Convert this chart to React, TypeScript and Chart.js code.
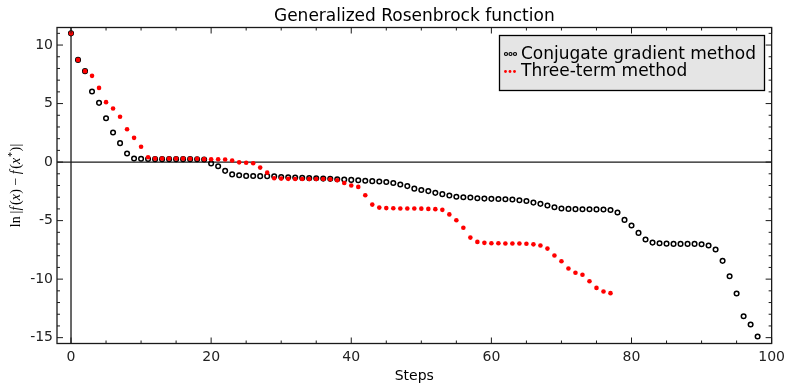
import { useEffect, useRef } from 'react';
import { Chart, registerables } from 'chart.js';

Chart.register(...registerables);

const conjugateGradient = [
  11.0, 8.73, 7.77, 6.03, 5.06, 3.75, 2.53, 1.62, 0.73, 0.31,
  0.28, 0.26, 0.25, 0.25, 0.25, 0.25, 0.25, 0.25, 0.24, 0.22,
  -0.11, -0.35, -0.75, -1.05, -1.13, -1.18, -1.19, -1.2, -1.2, -1.21,
  -1.28, -1.3, -1.32, -1.35, -1.37, -1.38, -1.41, -1.43, -1.47, -1.49,
  -1.52, -1.55, -1.6, -1.63, -1.66, -1.7, -1.78, -1.92, -2.05, -2.27,
  -2.38, -2.48, -2.63, -2.74, -2.86, -2.96, -3.0, -3.03, -3.09, -3.12,
  -3.14, -3.15, -3.17, -3.2, -3.26, -3.32, -3.46, -3.57, -3.71, -3.86,
  -3.97, -4.0, -4.02, -4.03, -4.03, -4.04, -4.05, -4.09, -4.31, -4.94,
  -5.42, -6.05, -6.62, -6.88, -6.94, -6.97, -6.99, -6.99, -6.99, -6.99,
  -7.02, -7.13, -7.47, -8.44, -9.75, -11.23, -13.17, -13.88, -14.9,
];

const threeTerm = [
  11.0, 8.73, 7.77, 7.37, 6.34, 5.12, 4.58, 3.87, 2.81, 2.07,
  1.31, 0.42, 0.3, 0.3, 0.3, 0.3, 0.3, 0.29, 0.28, 0.25,
  0.24, 0.24, 0.22, 0.13, -0.02, -0.05, -0.1, -0.47, -0.9, -1.38,
  -1.41, -1.43, -1.44, -1.44, -1.44, -1.44, -1.44, -1.47, -1.55, -1.78,
  -2.0, -2.12, -2.83, -3.63, -3.89, -3.93, -3.95, -3.97, -3.97, -3.97,
  -3.98, -4.0, -4.02, -4.08, -4.47, -4.97, -5.61, -6.45, -6.82, -6.9,
  -6.93, -6.93, -6.95, -6.96, -6.96, -6.98, -7.03, -7.13, -7.39, -7.98,
  -8.47, -9.09, -9.46, -9.62, -10.18, -10.75, -11.06, -11.2,
];

const xTicks = [0, 20, 40, 60, 80, 100];
const yTicks = [-15, -10, -5, 0, 5, 10];
const seriesLabels = ['Conjugate gradient method', 'Three-term method'];
const titleText = 'Generalized Rosenbrock function';
const xTitle = 'Steps';

const FRAME = '#1a1a1a';

const decorPlugin = {
  id: 'decor',
  beforeDatasetsDraw(chart: any) {
    const { ctx, chartArea: a, scales } = chart;
    const xs = scales.x;
    const ys = scales.y;
    ctx.save();
    ctx.strokeStyle = FRAME;
    ctx.lineWidth = 1.3;
    const y0 = ys.getPixelForValue(0);
    const x0 = xs.getPixelForValue(0);
    ctx.beginPath();
    ctx.moveTo(a.left, y0);
    ctx.lineTo(a.right, y0);
    ctx.moveTo(x0, a.top);
    ctx.lineTo(x0, a.bottom);
    ctx.stroke();
    ctx.restore();
  },
  afterDraw(chart: any) {
    const { ctx, chartArea: a, scales } = chart;
    const xs = scales.x;
    const ys = scales.y;
    ctx.save();
    // frame
    ctx.strokeStyle = FRAME;
    ctx.lineWidth = 1.3;
    ctx.strokeRect(a.left, a.top, a.right - a.left, a.bottom - a.top);
    // ticks
    ctx.lineWidth = 1;
    ctx.beginPath();
    for (let v = 0; v <= 100; v += 5) {
      const px = xs.getPixelForValue(v);
      const len = v % 20 === 0 ? 6 : 3;
      ctx.moveTo(px, a.bottom);
      ctx.lineTo(px, a.bottom - len);
      ctx.moveTo(px, a.top);
      ctx.lineTo(px, a.top + len);
    }
    for (let v = -15; v <= 11; v += 1) {
      const py = ys.getPixelForValue(v);
      const len = v % 5 === 0 ? 6 : 3;
      ctx.moveTo(a.left, py);
      ctx.lineTo(a.left + len, py);
      ctx.moveTo(a.right, py);
      ctx.lineTo(a.right - len, py);
    }
    ctx.stroke();

    // title
    ctx.fillStyle = '#000';
    ctx.textAlign = 'center';
    ctx.textBaseline = 'alphabetic';
    ctx.font = '17px "DejaVu Sans"';
    ctx.fillText(titleText, (a.left + a.right) / 2, 20.5);
    // x title
    ctx.font = '14px "DejaVu Sans"';
    ctx.fillText(xTitle, (a.left + a.right) / 2, 380);

    // y title (math style)
    ctx.save();
    ctx.translate(15, (a.top + a.bottom) / 2);
    ctx.rotate(-Math.PI / 2);
    const size = 14;
    const up = `${size}px "Liberation Serif"`;
    const it = `italic ${size}px "Liberation Serif"`;
    const sup = `${Math.round(size * 0.72)}px "Liberation Serif"`;
    const parts: [string, string, number, number][] = [
      ['ln', up, 0.2, 0],
      ['|', up, 0.02, 0],
      ['f', it, 0.1, 0],
      ['(', up, 0.02, 0],
      ['x', it, 0.02, 0],
      [')', up, 0.25, 0],
      ['\u2212', up, 0.25, 0],
      ['f', it, 0.1, 0],
      ['(', up, 0.02, 0],
      ['x', it, 0.04, 0],
      ['*', sup, 0.04, -5],
      [')', up, 0.02, 0],
      ['|', up, 0, 0],
    ];
    let total = 0;
    for (const [t, f, sp] of parts) {
      ctx.font = f;
      total += ctx.measureText(t).width + sp * size;
    }
    let cx = -total / 2;
    ctx.textAlign = 'left';
    ctx.fillStyle = '#000';
    for (const [t, f, sp, dy] of parts) {
      ctx.font = f;
      ctx.fillText(t, cx, 4.5 + dy);
      cx += ctx.measureText(t).width + sp * size;
    }
    ctx.restore();

    // legend
    const lx = 499.5, ly = 35.5, lw = 265, lh = 55;
    ctx.fillStyle = '#e5e5e5';
    ctx.fillRect(lx, ly, lw, lh);
    ctx.strokeStyle = '#000';
    ctx.lineWidth = 1.3;
    ctx.strokeRect(lx, ly, lw, lh);
    ctx.font = '17px "DejaVu Sans"';
    ctx.fillStyle = '#000';
    ctx.textAlign = 'left';
    ctx.fillText(seriesLabels[0], 521, 59);
    ctx.fillText(seriesLabels[1], 521, 75.5);
    ctx.lineWidth = 1.2;
    ctx.strokeStyle = '#000';
    for (const mx of [506, 510.5, 515]) {
      ctx.beginPath();
      ctx.arc(mx, 54, 1.5, 0, Math.PI * 2);
      ctx.stroke();
    }
    ctx.fillStyle = '#ff0000';
    for (const mx of [505.5, 510, 514.5]) {
      ctx.beginPath();
      ctx.arc(mx, 71.5, 1.4, 0, Math.PI * 2);
      ctx.fill();
    }
    ctx.restore();
  },
};

export default function App() {
  const ref = useRef<HTMLCanvasElement | null>(null);

  useEffect(() => {
    document.body.style.margin = '0';
    const canvas = ref.current;
    if (!canvas) return;
    const tickFont = { family: '"DejaVu Sans"', size: 14 };
    const chart = new Chart(canvas, {
      type: 'scatter',
      data: {
        datasets: [
          {
            label: seriesLabels[0],
            data: conjugateGradient.map((v, i) => ({ x: i, y: v })),
            pointStyle: 'circle',
            pointRadius: 2.3,
            pointBorderWidth: 1.5,
            pointBorderColor: '#000',
            pointBackgroundColor: 'rgba(255,255,255,0)',
            borderColor: '#000',
            backgroundColor: 'rgba(255,255,255,0)',
            showLine: false,
            order: 2,
          },
          {
            label: seriesLabels[1],
            data: threeTerm.map((v, i) => ({ x: i, y: v })),
            pointStyle: 'circle',
            pointRadius: 2.3,
            pointBorderWidth: 0,
            pointBackgroundColor: '#ff0000',
            pointBorderColor: '#ff0000',
            borderColor: '#ff0000',
            backgroundColor: '#ff0000',
            showLine: false,
            order: 1,
          },
        ],
      },
      options: {
        responsive: false,
        animation: false,
        devicePixelRatio: 1,
        layout: { padding: { top: 27.5, right: 17, left: 0, bottom: 0 } },
        plugins: {
          legend: { display: false },
          title: { display: false },
          tooltip: { enabled: false },
        },
        scales: {
          x: {
            type: 'linear',
            min: -2,
            max: 100,
            grid: { display: false, drawTicks: false },
            border: { display: false },
            ticks: {
              font: tickFont,
              color: '#222',
              padding: 5,
              maxRotation: 0,
              autoSkip: false,
            },
            afterBuildTicks: (s: any) => {
              s.ticks = xTicks.map((v) => ({ value: v }));
            },
            afterFit: (s: any) => {
              s.height = 41.5;
            },
          },
          y: {
            type: 'linear',
            min: -15.5,
            max: 11.5,
            grid: { display: false, drawTicks: false },
            border: { display: false },
            ticks: {
              font: tickFont,
              color: '#222',
              padding: 4,
              autoSkip: false,
            },
            afterBuildTicks: (s: any) => {
              s.ticks = yTicks.map((v) => ({ value: v }));
            },
            afterFit: (s: any) => {
              s.width = 57;
            },
          },
        },
      } as any,
      plugins: [decorPlugin],
    });
    return () => chart.destroy();
  }, []);

  return (
    <div style={{ width: 790, height: 385, background: '#fff' }}>
      <canvas ref={ref} width={790} height={385} style={{ display: 'block' }} />
    </div>
  );
}
